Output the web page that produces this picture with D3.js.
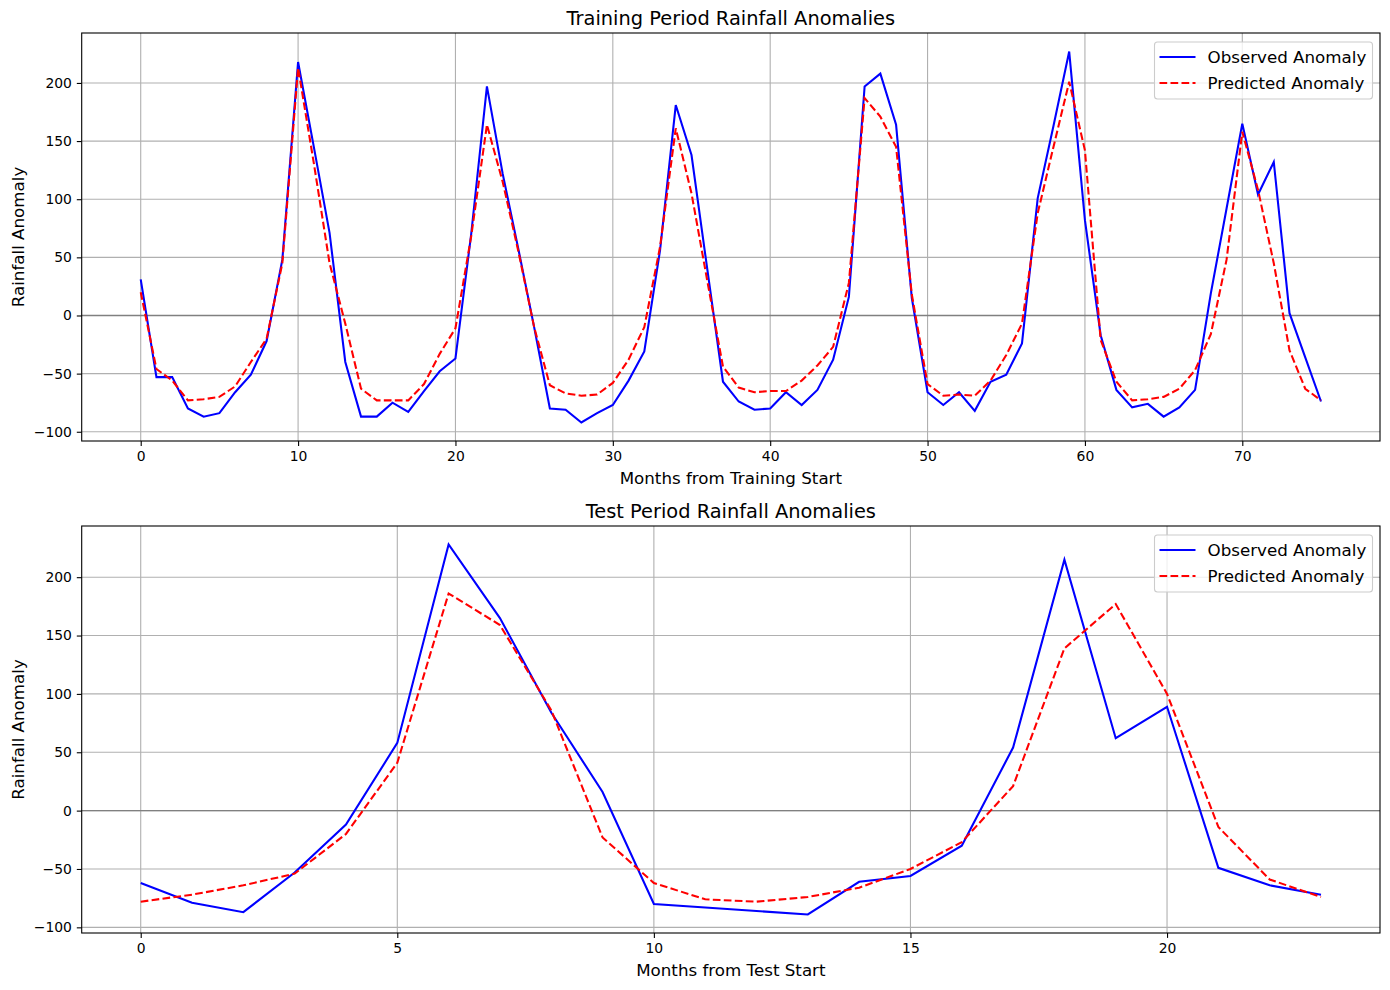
<!DOCTYPE html>
<html>
<head>
<meta charset="utf-8">
<script src="https://cdn.jsdelivr.net/npm/d3@7"></script>
<style>
  html, body { margin: 0; padding: 0; background: #fff; }
  svg { display: block; font-family: "DejaVu Sans", sans-serif; }
</style>
</head>
<body>
<svg id="chart" width="1390" height="990"></svg>
<script>
// ---------------- data ----------------
const trainObserved = [
  31, -53, -53, -80, -87, -84, -66, -51, -22, 48,
  218, 145, 71, -40, -87, -87, -75, -83, -65, -48,
  -37, 70, 197, 122, 57, -10, -80, -81, -92, -84,
  -77, -56, -31, 56, 181, 138, 40, -57, -74, -81,
  -80, -66, -77, -64, -38, 16, 197, 208, 164, 15,
  -66, -77, -66, -82, -57, -51, -24, 101, 163, 227,
  82, -17, -64, -79, -76, -87, -79, -64, 19, 92,
  165, 104, 132, 2, -36, -74
];
const trainPredicted = [
  20, -46, -56, -73, -72, -70, -61, -40, -20, 45,
  213, 131, 45, -7, -63, -73, -73, -73, -59, -33,
  -11, 68, 164, 115, 55, -10, -60, -67, -69, -68,
  -58, -38, -10, 59, 161, 105, 30, -44, -62, -66,
  -65, -65, -56, -43, -27, 28, 187, 171, 145, 18,
  -59, -69, -68, -69, -56, -34, -7, 88, 145, 201,
  142, -21, -57, -73, -72, -70, -63, -47, -16, 48,
  158, 108, 45, -30, -63, -73
];
const testObserved = [
  -62, -79, -87, -53, -12, 58, 228, 165, 84, 16,
  -80, -83, -86, -89, -61, -56, -30, 54, 215, 62,
  89, -49, -64, -72
];
const testPredicted = [
  -78, -72, -64, -54, -20, 41, 186, 159, 86, -23,
  -62, -76, -78, -74, -66, -50, -27, 21, 139, 177,
  100, -14, -59, -74
];
const trainXTicks = [0, 10, 20, 30, 40, 50, 60, 70];
const testXTicks = [0, 5, 10, 15, 20];
const yTicks = [-100, -50, 0, 50, 100, 150, 200];
const seriesNames = ["Observed Anomaly", "Predicted Anomaly"];

// ---------------- drawing ----------------
const svg = d3.select("#chart");
const FONT_TICK = 13.9, FONT_LABEL = 16.7, FONT_TITLE = 19.4;

function padded(lo, hi) {
  const p = (hi - lo) * 0.05;
  return [lo - p, hi + p];
}

function drawPanel(cfg) {
  const { top, bottom, left, right, obs, pred, xTicks, title, xLabel } = cfg;
  const n = obs.length;
  const xs = d3.scaleLinear().domain(padded(0, n - 1)).range([left, right]);
  const all = obs.concat(pred);
  const ys = d3.scaleLinear().domain(padded(d3.min(all), d3.max(all))).range([bottom, top]);

  const g = svg.append("g");

  // grid
  g.append("g").selectAll("line.vx").data(xTicks).join("line")
    .attr("x1", d => xs(d)).attr("x2", d => xs(d))
    .attr("y1", top).attr("y2", bottom)
    .attr("stroke", "#b0b0b0").attr("stroke-width", 1.1);
  g.append("g").selectAll("line.hy").data(yTicks).join("line")
    .attr("x1", left).attr("x2", right)
    .attr("y1", d => ys(d)).attr("y2", d => ys(d))
    .attr("stroke", "#b0b0b0").attr("stroke-width", 1.1);

  // zero line
  g.append("line")
    .attr("x1", left).attr("x2", right)
    .attr("y1", ys(0)).attr("y2", ys(0))
    .attr("stroke", "#808080").attr("stroke-width", 1.4);

  // lines
  const clipId = "clip" + Math.round(top);
  svg.append("clipPath").attr("id", clipId).append("rect")
    .attr("x", left).attr("y", top).attr("width", right - left).attr("height", bottom - top);
  const line = d3.line().x((d, i) => xs(i)).y(d => ys(d));
  g.append("path").datum(obs)
    .attr("clip-path", `url(#${clipId})`)
    .attr("d", line).attr("fill", "none")
    .attr("stroke", "#0000ff").attr("stroke-width", 2.08)
    .attr("stroke-linejoin", "miter");
  g.append("path").datum(pred)
    .attr("clip-path", `url(#${clipId})`)
    .attr("d", line).attr("fill", "none")
    .attr("stroke", "#ff0000").attr("stroke-width", 2.08)
    .attr("stroke-dasharray", "7.7,3.3");

  // axes
  const xAxis = d3.axisBottom(xs).tickValues(xTicks).tickSize(4.9).tickPadding(4.9)
    .tickFormat(d3.format("d"));
  const yAxis = d3.axisLeft(ys).tickValues(yTicks).tickSize(4.9).tickPadding(4.9)
    .tickFormat(d3.format("d"));
  const gx = g.append("g").attr("transform", `translate(0,${bottom})`).call(xAxis);
  const gy = g.append("g").attr("transform", `translate(${left},0)`).call(yAxis);
  [gx, gy].forEach(a => {
    a.select(".domain").remove();
    a.selectAll(".tick line").attr("stroke", "#000").attr("stroke-width", 1.1);
    a.selectAll(".tick text").attr("fill", "#000")
      .style("font-size", FONT_TICK + "px").style("font-family", "DejaVu Sans");
  });

  // frame
  g.append("rect").attr("x", left).attr("y", top)
    .attr("width", right - left).attr("height", bottom - top)
    .attr("fill", "none").attr("stroke", "#000").attr("stroke-width", 1.1);

  // title & labels
  g.append("text").attr("x", (left + right) / 2).attr("y", top - 8.3)
    .attr("text-anchor", "middle").style("font-size", FONT_TITLE + "px").text(title);
  g.append("text").attr("x", (left + right) / 2).attr("y", bottom + 42.5)
    .attr("text-anchor", "middle").style("font-size", FONT_LABEL + "px").text(xLabel);
  g.append("text")
    .attr("transform", `translate(24,${(top + bottom) / 2}) rotate(-90)`)
    .attr("text-anchor", "middle").style("font-size", FONT_LABEL + "px").text("Rainfall Anomaly");

  // legend
  const lw = 218, lh = 57;
  const lx = right - 7.5 - lw, ly = top + 9;
  const lg = g.append("g");
  lg.append("rect").attr("x", lx).attr("y", ly).attr("width", lw).attr("height", lh)
    .attr("rx", 3).attr("ry", 3)
    .attr("fill", "#fff").attr("fill-opacity", 0.8)
    .attr("stroke", "#cccccc").attr("stroke-width", 1.1);
  const styles = [
    { color: "#0000ff", dash: null },
    { color: "#ff0000", dash: "7.7,3.3" }
  ];
  seriesNames.forEach((name, i) => {
    const cy = ly + 15 + i * 26;
    lg.append("line").attr("x1", lx + 5).attr("x2", lx + 41)
      .attr("y1", cy).attr("y2", cy)
      .attr("stroke", styles[i].color).attr("stroke-width", 2.08)
      .attr("stroke-dasharray", styles[i].dash);
    lg.append("text").attr("x", lx + 53).attr("y", cy + 6)
      .style("font-size", FONT_LABEL + "px").text(name);
  });
}

drawPanel({
  top: 33, bottom: 441, left: 81.7, right: 1380,
  obs: trainObserved, pred: trainPredicted, xTicks: trainXTicks,
  title: "Training Period Rainfall Anomalies", xLabel: "Months from Training Start"
});
drawPanel({
  top: 526, bottom: 933, left: 81.7, right: 1380,
  obs: testObserved, pred: testPredicted, xTicks: testXTicks,
  title: "Test Period Rainfall Anomalies", xLabel: "Months from Test Start"
});
</script>
</body>
</html>
